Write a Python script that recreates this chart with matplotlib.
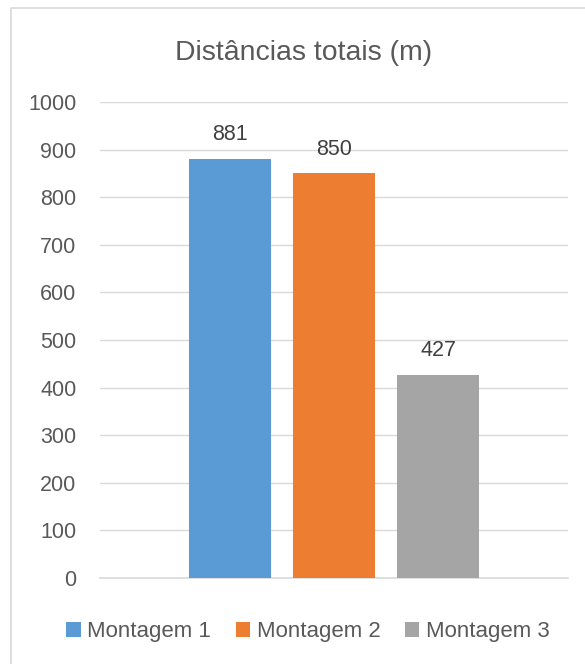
import matplotlib.pyplot as plt
from matplotlib.patches import Rectangle, Patch

series = ["Montagem 1", "Montagem 2", "Montagem 3"]
valores = [881, 850, 427]
cores = ["#5b9bd5", "#ed7d31", "#a5a5a5"]
yticks = [0, 100, 200, 300, 400, 500, 600, 700, 800, 900, 1000]

plt.rcParams['font.family'] = ['Liberation Sans', 'DejaVu Sans']
texto = "#595959"

fig = plt.figure(figsize=(5.85, 6.64), dpi=100)
W, H = 585, 664

# moldura da área do gráfico (só as bordas de cima e da esquerda aparecem)
fig.patches.append(Rectangle((11 / W, -0.05), 1.0, 1.05 - 8 / H, transform=fig.transFigure,
                             fill=False, edgecolor="#d9d9d9", linewidth=1.2))

ax = fig.add_axes([100 / W, 1 - 578 / H, (568 - 100) / W, (578 - 102) / H])
x = list(range(len(series)))
barras = ax.bar(x, valores, width=82 / 104, color=cores, zorder=3)
ax.set_xlim(-1.25, 3.25)
ax.set_ylim(0, 1000)
ax.set_yticks(yticks)
ax.set_xticks([])
ax.grid(axis="y", color="#d9d9d9", linewidth=1.0, zorder=0)
for s in ["top", "right", "left"]:
    ax.spines[s].set_visible(False)
ax.spines["bottom"].set_color("#d9d9d9")
ax.spines["bottom"].set_linewidth(1.2)
ax.tick_params(axis="y", length=0, labelsize=15.5, labelcolor=texto, pad=17)

for b, v in zip(barras, valores):
    ax.annotate(str(v), (b.get_x() + b.get_width() / 2, v), xytext=(0, 10),
                textcoords="offset points", ha="center", va="bottom",
                fontsize=15.5, color="#404040")

fig.text(304 / W, 1 - 53 / H, "Distâncias totais (m)", ha="center", va="center",
         fontsize=20.4, color=texto)

handles = [Patch(facecolor=c, label=s) for c, s in zip(cores, series)]
fig.legend(handles=handles, loc="center", bbox_to_anchor=(308 / W, 1 - 632 / H),
           ncol=3, frameon=False, fontsize=16, labelcolor=texto,
           handlelength=0.65, handleheight=0.65, handletextpad=0.3, columnspacing=1.1)

fig.savefig("out.png", dpi=100)
